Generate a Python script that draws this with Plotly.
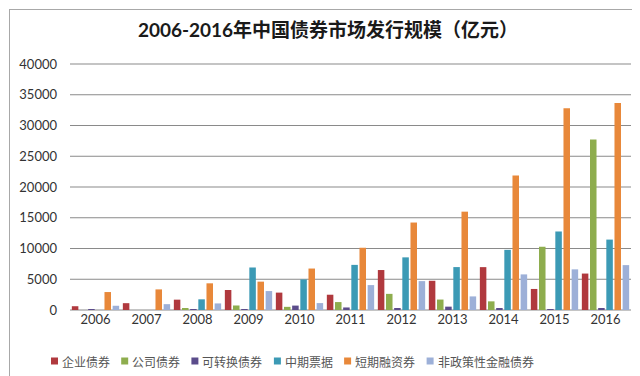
import plotly.graph_objects as go

years = ["2006", "2007", "2008", "2009", "2010", "2011", "2012", "2013", "2014", "2015", "2016"]
series_names = ["企业债券", "公司债券", "可转换债券", "中期票据", "短期融资券", "非政策性金融债券"]
enterprise = [615, 1109, 1681, 3252, 2827, 2485, 6499, 4752, 6971, 3421, 5926]
corporate = [0, 0, 288, 734, 512, 1291, 2623, 1700, 1407, 10284, 27734]
convertible = [43, 0, 77, 47, 717, 413, 164, 544, 321, 98, 213]
mtn = [0, 0, 1737, 6913, 4970, 7336, 8559, 6979, 9781, 12767, 11448]
short_term = [2920, 3349, 4339, 4612, 6742, 10122, 14222, 15990, 21850, 32806, 33675]
non_policy = [690, 950, 1070, 3080, 1125, 4050, 4700, 2210, 5790, 6610, 7300]
y_ticks = [0, 5000, 10000, 15000, 20000, 25000, 30000, 35000, 40000]
y_tick_text = ["0", "5000", "10000", "15000", "20000", "25000", "30000", "35000", "40000"]
y_max = 40000

colors = ["#B0393E", "#8EAD4E", "#5B4C8B", "#3C9AB5", "#E8883A", "#9DB0D8"]
values = [enterprise, corporate, convertible, mtn, short_term, non_policy]

W, H = 640, 376
L, R, T, B = 62, 17, 56, 74
pw, ph = W - L - R, H - T - B

def px2x(px):
    return (px - L) / pw

def py2y(py):
    return (H - B - py) / ph

fig = go.Figure()
for name, vals, col in zip(series_names, values, colors):
    fig.add_trace(go.Bar(x=years, y=vals, name=name, marker_color=col,
                         marker_line_width=0, showlegend=False))

shapes = []
# horizontal gridlines at tick values, drawn as 1px filled bands (below the bars)
half = 0.5 / ph
for v in y_ticks:
    yp = v / y_max
    shapes.append(dict(type="rect", xref="paper", yref="paper", x0=0, x1=1,
                       y0=yp - half, y1=yp + half, fillcolor="#8A8A8A", line_width=0,
                       layer="below"))

# manual legend (compact like the original)
annotations = []
char_w = 12.3
cx = 43
ly = 353
for name, col in zip(series_names, colors):
    shapes.append(dict(type="rect", xref="paper", yref="paper",
                       x0=px2x(cx), x1=px2x(cx + 7), y0=py2y(ly + 3.5), y1=py2y(ly - 3.5),
                       fillcolor=col, line_width=0))
    annotations.append(dict(text=name, xref="paper", yref="paper", x=px2x(cx + 9),
                            y=py2y(ly), xanchor="left", yanchor="middle", showarrow=False,
                            font=dict(family="Noto Sans CJK SC", size=12, color="#555555")))
    cx = cx + 10 + len(name) * char_w + 11

# outer border as four thin filled bands
bl, bt, br, bb = 1, 1, 634, 373
for (a, b_, c, d) in [(bl, bt, br, bt + 1), (bl, bb - 1, br, bb),
                      (bl, bt, bl + 1, bb), (br - 1, bt, br, bb)]:
    shapes.append(dict(type="rect", xref="paper", yref="paper",
                       x0=px2x(a), x1=px2x(c), y0=py2y(d), y1=py2y(b_),
                       fillcolor="#A8A8A8", line_width=0))

fig.update_layout(
    template="none",
    width=W, height=H,
    margin=dict(l=L, r=R, t=T, b=B),
    paper_bgcolor="white", plot_bgcolor="rgba(0,0,0,0)",
    barmode="group", bargap=0.04, bargroupgap=0.2,
    title=dict(text="<b>2006-2016年中国债券市场发行规模（亿元）</b>", x=0.5, xanchor="center",
               y=1 - 22 / H, yanchor="middle",
               font=dict(family="Lato, Noto Sans CJK SC", size=19, color="#1a1a1a")),
    xaxis=dict(type="category", showgrid=False, showline=False, ticks="", zeroline=False,
               tickfont=dict(family="Lato", size=13, color="#333333")),
    yaxis=dict(range=[0, y_max], tickmode="array", tickvals=y_ticks, ticktext=y_tick_text,
               showgrid=False, zeroline=False,
               showline=False, ticks="", ticklabelstandoff=12,
               tickfont=dict(family="Lato", size=13, color="#333333")),
    shapes=shapes, annotations=annotations,
    showlegend=False,
)

fig.write_html("out.html")
